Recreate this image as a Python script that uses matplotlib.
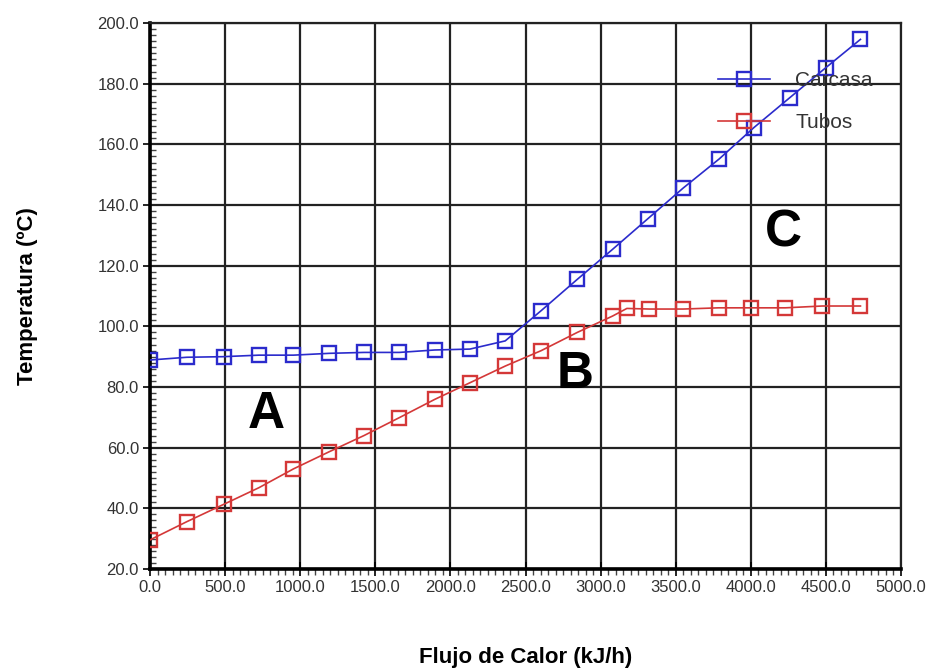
"""Temperatura vs flujo de calor: carcasa y tubos."""

import matplotlib.pyplot as plt
from matplotlib.ticker import MultipleLocator, FormatStrFormatter

plt.rcParams["font.family"] = ["Liberation Sans", "DejaVu Sans"]

# Carcasa (shell side)
carcasa_q = [0, 245, 490, 725, 955, 1195, 1425, 1660, 1895, 2130, 2365,
             2605, 2845, 3080, 3315, 3550, 3790, 4020, 4260, 4500, 4730]
carcasa_t = [88.9, 89.8, 90.0, 90.5, 90.5, 91.1, 91.4, 91.4, 92.2, 92.5, 95.2,
             105.2, 115.5, 125.4, 135.5, 145.6, 155.2, 165.5, 175.4, 185.3, 194.6]

# Tubos (tube side)
tubos_q = [0, 245, 490, 725, 955, 1195, 1425, 1660, 1895, 2130, 2365,
           2605, 2845, 3080, 3175, 3325, 3550, 3785, 4000, 4230, 4475, 4730]
tubos_t = [29.6, 35.6, 41.3, 46.8, 53.0, 58.7, 64.0, 69.9, 75.9, 81.4, 86.9,
           92.0, 98.0, 103.4, 105.9, 105.7, 105.7, 106.1, 106.1, 106.1, 106.7, 106.7]

zones = ["A", "B", "C"]
zone_q = [777, 2830, 4216]
zone_t = [70.8, 84.0, 130.7]

clr_blue = "#2b2bcc"
clr_red = "#d43838"

fig = plt.figure(figsize=(9.31, 6.71), dpi=100)
ax = fig.add_axes([150 / 931, 102 / 671, 751 / 931, 546 / 671])

ax.plot(carcasa_q, carcasa_t, color=clr_blue, lw=1.2, marker="s",
        markersize=10, markerfacecolor="none", markeredgewidth=1.7,
        label="Carcasa", zorder=3)
ax.plot(tubos_q, tubos_t, color=clr_red, lw=1.2, marker="s",
        markersize=10, markerfacecolor="none", markeredgewidth=1.7,
        label="Tubos", zorder=3)

for lbl, q, t in zip(zones, zone_q, zone_t):
    ax.text(q, t, lbl, fontsize=37, fontweight="bold", ha="center",
            va="center", color="black")

ax.set_xlim(0, 5000)
ax.set_ylim(20, 200)
ax.xaxis.set_major_locator(MultipleLocator(500))
ax.xaxis.set_minor_locator(MultipleLocator(50))
ax.yaxis.set_major_locator(MultipleLocator(20))
ax.yaxis.set_minor_locator(MultipleLocator(2))
ax.xaxis.set_major_formatter(FormatStrFormatter("%.1f"))
ax.yaxis.set_major_formatter(FormatStrFormatter("%.1f"))

ax.grid(which="major", color="#222222", lw=1.6)
ax.set_axisbelow(True)
for side in ["top", "right"]:
    ax.spines[side].set_color("#222222")
    ax.spines[side].set_linewidth(1.6)
for side in ["left", "bottom"]:
    ax.spines[side].set_color("black")
    ax.spines[side].set_linewidth(2.6)

ax.tick_params(axis="both", which="major", labelsize=12, labelcolor="#333333",
               color="black", width=1.2)
ax.tick_params(axis="x", which="major", direction="inout", length=10, pad=3)
ax.tick_params(axis="x", which="minor", direction="out", length=4, width=1,
               color="#444444")
ax.tick_params(axis="y", which="major", direction="out", length=5, pad=3)
ax.tick_params(axis="y", which="minor", direction="in", length=4, width=1,
               color="#444444")

ax.set_xlabel("Flujo de Calor (kJ/h)", fontsize=16, fontweight="bold",
              labelpad=37)
ax.set_ylabel("Temperatura (ºC)", fontsize=16, fontweight="bold",
              labelpad=43)

leg = ax.legend(loc="upper left", bbox_to_anchor=(718 / 931, 1 - 71 / 671),
                bbox_transform=fig.transFigure, frameon=False, fontsize=15,
                handlelength=2.5, handletextpad=1.2, labelspacing=1.1,
                borderpad=0, borderaxespad=0)
for txt in leg.get_texts():
    txt.set_color("#333333")

fig.savefig("out.png", dpi=100)
